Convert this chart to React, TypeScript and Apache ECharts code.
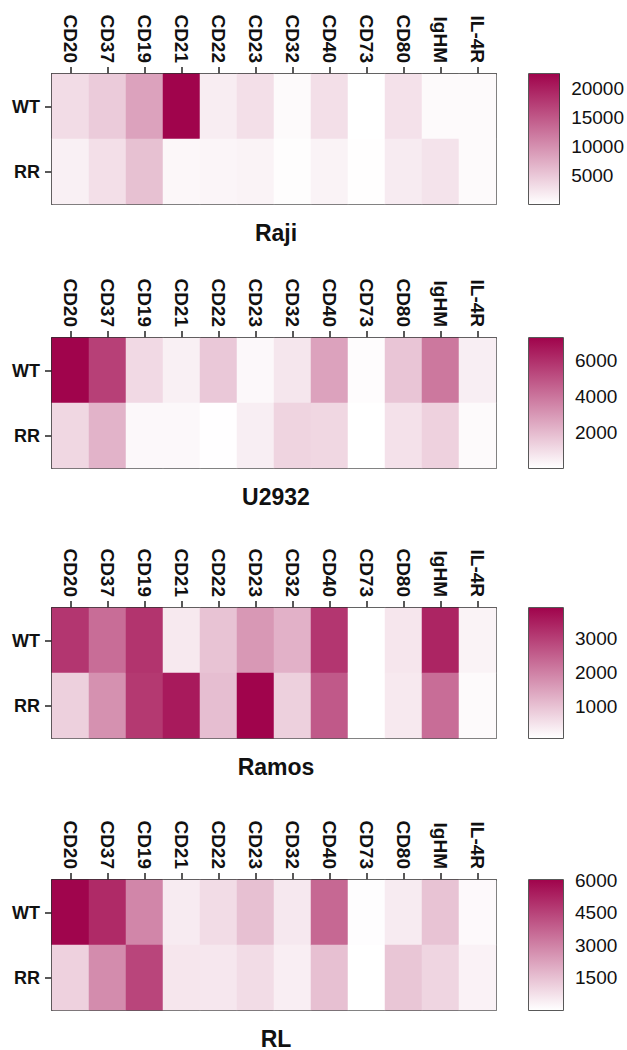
import React, { useEffect, useRef } from 'react';
import * as echarts from 'echarts';

const markers = ['CD20', 'CD37', 'CD19', 'CD21', 'CD22', 'CD23', 'CD32', 'CD40', 'CD73', 'CD80', 'IgHM', 'IL-4R'];
const groups = ['WT', 'RR'];

const rajiWT = [3150, 4700, 8300, 22500, 1600, 2900, 450, 2900, 0, 2700, 450, 450];
const rajiRR = [1350, 2900, 5600, 700, 900, 1100, 200, 1100, 100, 1800, 2500, 450];

const u2932WT = [7280, 5530, 1100, 440, 1600, 200, 730, 2700, 80, 1670, 3930, 500];
const u2932RR = [1160, 2200, 200, 200, 20, 500, 1250, 1160, 0, 870, 1330, 150];

const ramosWT = [3136, 2300, 3175, 420, 1000, 1650, 1260, 3136, 80, 460, 3400, 270];
const ramosRR = [800, 1760, 3100, 3560, 1070, 3900, 800, 2600, 80, 420, 2300, 160];

const rlWT = [6000, 5100, 2900, 480, 840, 1500, 540, 3630, 40, 480, 1450, 150];
const rlRR = [1100, 2760, 4450, 600, 580, 850, 400, 1500, 0, 1370, 1000, 300];

const panelNames = ['Raji', 'U2932', 'Ramos', 'RL'];
const panelWT = [rajiWT, u2932WT, ramosWT, rlWT];
const panelRR = [rajiRR, u2932RR, ramosRR, rlRR];
const scaleMin = [0, 0, 80, 0];
const scaleMax = [22500, 7280, 3900, 6020];
const colorbarTicks = [
  [5000, 10000, 15000, 20000],
  [2000, 4000, 6000],
  [1000, 2000, 3000],
  [1500, 3000, 4500, 6000],
];

const FONT = '"Liberation Sans", Arial, Helvetica, sans-serif';
const LOW = '#FFFFFF';
const HIGH = '#A0044C';
const INK = '#111111';
const LINE = '#222222';

export default function App() {
  const ref = useRef<HTMLDivElement>(null);

  useEffect(() => {
    if (!ref.current) return;
    const chart = echarts.init(ref.current, null, { renderer: 'svg' });

    const tops = [74, 338, 608, 880];
    const plotH = 130;
    const plotLeft = 52;
    const plotW = 444;
    const cbLeft = 529;
    const cbW = 34;

    const grid: any[] = [];
    const xAxis: any[] = [];
    const yAxis: any[] = [];
    const series: any[] = [];
    const visualMap: any[] = [];
    const graphic: any[] = [];

    panelNames.forEach((name, i) => {
      const top = tops[i];
      grid.push({ left: plotLeft, top, width: plotW, height: plotH, show: true, borderColor: LINE, borderWidth: 1.5, backgroundColor: 'transparent' });
      grid.push({ left: cbLeft, top, width: cbW, height: plotH, show: true, borderColor: LINE, borderWidth: 1.5, backgroundColor: 'transparent' });

      xAxis.push({
        type: 'category', gridIndex: 2 * i, data: markers, position: 'top',
        axisLine: { show: true, lineStyle: { color: LINE, width: 1.5 } },
        axisTick: { show: true, alignWithLabel: true, interval: 0, length: 7, lineStyle: { color: LINE, width: 1.5 } },
        axisLabel: { rotate: 90, interval: 0, fontSize: 19, fontWeight: 'bold', color: INK, margin: 11, fontFamily: FONT },
        splitLine: { show: false },
      });
      xAxis.push({ type: 'category', gridIndex: 2 * i + 1, data: ['scale'], show: false });

      yAxis.push({
        type: 'category', gridIndex: 2 * i, data: groups, inverse: true,
        axisLine: { show: true, lineStyle: { color: LINE, width: 1.5 } },
        axisTick: { show: true, alignWithLabel: true, length: 7, lineStyle: { color: LINE, width: 1.5 } },
        axisLabel: { fontSize: 18, fontWeight: 'bold', color: INK, margin: 12, fontFamily: FONT },
        splitLine: { show: false },
      });
      yAxis.push({
        type: 'value', gridIndex: 2 * i + 1, position: 'right', min: scaleMin[i], max: scaleMax[i],
        axisLine: { show: false },
        splitLine: { show: false },
        axisTick: { show: true, inside: true, length: 5, customValues: colorbarTicks[i], lineStyle: { color: LINE, width: 1.5 } },
        axisLabel: {
          show: true, customValues: colorbarTicks[i], fontSize: 19, color: INK, margin: 12, fontFamily: FONT,
          formatter: (v: number) => String(v),
        },
      });
      yAxis.push({
        type: 'value', gridIndex: 2 * i + 1, position: 'left', min: scaleMin[i], max: scaleMax[i],
        axisLine: { show: false },
        splitLine: { show: false },
        axisTick: { show: true, inside: true, length: 5, customValues: colorbarTicks[i], lineStyle: { color: LINE, width: 1.5 } },
        axisLabel: { show: false },
      });

      const data: any[] = [];
      markers.forEach((_, j) => {
        data.push([j, 0, panelWT[i][j]]);
        data.push([j, 1, panelRR[i][j]]);
      });
      const heatIndex = series.length;
      series.push({
        type: 'heatmap', name: name, xAxisIndex: 2 * i, yAxisIndex: 3 * i, data,
        itemStyle: { borderWidth: 0 }, emphasis: { disabled: true }, z: 1,
      });
      visualMap.push({
        type: 'continuous', show: false, seriesIndex: heatIndex, dimension: 2,
        min: scaleMin[i], max: scaleMax[i], inRange: { color: [LOW, HIGH] },
      });
      series.push({
        type: 'bar', xAxisIndex: 2 * i + 1, yAxisIndex: 3 * i + 1, stack: 'cb' + i,
        data: [scaleMin[i]], barWidth: '100%', itemStyle: { color: 'rgba(0,0,0,0)' }, silent: true, z: 1,
      });
      series.push({
        type: 'bar', xAxisIndex: 2 * i + 1, yAxisIndex: 3 * i + 1, stack: 'cb' + i,
        data: [scaleMax[i] - scaleMin[i]], barWidth: '100%', silent: true, z: 1,
        itemStyle: {
          color: new echarts.graphic.LinearGradient(0, 1, 0, 0, [
            { offset: 0, color: LOW },
            { offset: 1, color: HIGH },
          ]),
        },
      });

      graphic.push({
        type: 'text', x: 276, y: top + plotH + 28.5,
        style: { text: name, textAlign: 'center', textVerticalAlign: 'middle', font: `bold 23px ${FONT}`, fill: INK },
      });
    });

    chart.setOption({
      animation: false,
      backgroundColor: '#ffffff',
      textStyle: { fontFamily: FONT },
      grid, xAxis, yAxis, series, visualMap, graphic,
    });

    return () => chart.dispose();
  }, []);

  return <div ref={ref} style={{ position: 'absolute', left: 0, top: 0, width: 627, height: 1050 }} />;
}
